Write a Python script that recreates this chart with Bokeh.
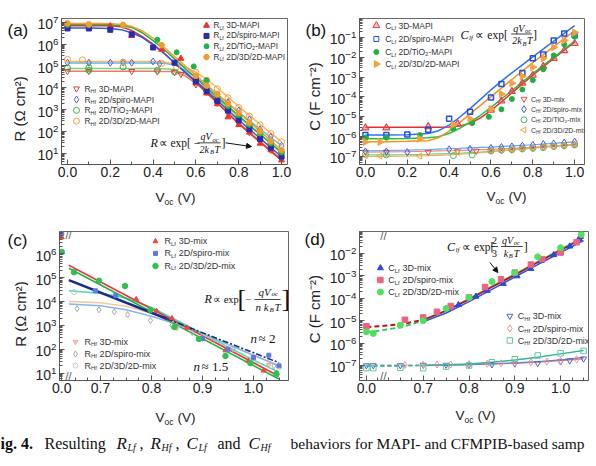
import math
from bokeh.plotting import figure
from bokeh.models import FixedTicker, PrintfTickFormatter, Label, Arrow, NormalHead, Range1d
from bokeh.layouts import column, row
from bokeh.embed import file_html
from bokeh.resources import INLINE

# ===================== DATA =====================
# ---- panel (a): R vs Voc, MAPI samples ----
A_LF3D_V = [0.0, 0.1, 0.2, 0.3, 0.44, 0.53, 0.6, 0.65, 0.7, 0.75, 0.8, 0.85, 0.9, 0.95, 1.0]
A_LF3D_R = [7.0e6, 7.0e6, 6.6e6, 2.4e6, 5.6e5, 2.2e5, 1.6e4, 5.6e3, 1.8e3, 4.5e2, 2.0e2, 90, 28, 14, 4.8]
A_LFSP_V = [0.0, 0.1, 0.2, 0.3, 0.4, 0.5, 0.6, 0.65, 0.7, 0.75, 0.8, 0.85, 0.9, 0.95, 1.0]
A_LFSP_R = [5.2e6, 5.2e6, 4.5e6, 2.8e6, 7.0e5, 1.4e5, 2.0e4, 7.0e3, 2.5e3, 9.0e2, 3.2e2, 1.25e2, 45, 18, 7.0]
A_LFTI_V = [0.0, 0.1, 0.26, 0.42, 0.51, 0.59, 0.65, 0.7, 0.75, 0.8, 0.85, 0.9, 0.95, 1.0]
A_LFTI_R = [7.6e6, 7.2e6, 7.0e6, 1.6e6, 4.2e5, 9.5e4, 2.2e4, 5.0e3, 1.4e3, 5.6e2, 2.0e2, 80, 28, 10.7]
A_LFTR_V = [0.0, 0.1, 0.26, 0.44, 0.6, 0.65, 0.7, 0.75, 0.8, 0.85, 0.9, 0.95, 1.0]
A_LFTR_R = [8.9e6, 8.0e6, 7.6e6, 9.0e5, 3.5e4, 1.25e4, 5.0e3, 1.8e3, 7.0e2, 2.5e2, 1.0e2, 35, 14]
A_HF3D_V = [0.0, 0.1, 0.3, 0.42, 0.5, 0.53, 0.6, 0.65, 0.7, 0.75, 0.8, 0.85, 0.9, 0.95, 1.0]
A_HF3D_R = [5.7e4, 5.7e4, 5.7e4, 5.5e4, 5.2e4, 4.2e4, 1.4e4, 6.3e3, 2.0e3, 7.0e2, 2.5e2, 90, 35, 14, 5.6]
A_HFSP_V = [0.0, 0.1, 0.2, 0.26, 0.3, 0.4, 0.43, 0.6, 0.65, 0.7, 0.75, 0.8, 0.85, 0.9, 0.95, 1.0]
A_HFSP_R = [1.4e5, 1.4e5, 1.4e5, 1.4e5, 1.4e5, 1.6e5, 1.25e5, 2.8e4, 1.1e4, 4.0e3, 2.2e3, 9.0e2, 3.5e2, 1.25e2, 56, 22]
A_HFTI_V = [0.0, 0.1, 0.1, 0.26, 0.42, 0.5, 0.6, 0.65, 0.7, 0.75, 0.8, 0.85, 0.9, 0.95, 1.0]
A_HFTI_R = [8.0e4, 8.3e4, 6.3e4, 9.0e4, 6.3e4, 5.2e4, 2.0e4, 8.0e3, 3.2e3, 1.25e3, 4.5e2, 1.8e2, 70, 28, 11]
A_HFTR_V = [0.0, 0.07, 0.26, 0.44, 0.51, 0.6, 0.65, 0.7, 0.75, 0.8, 0.85, 0.9, 0.95, 1.0]
A_HFTR_R = [2.0e5, 1.9e5, 1.5e5, 1.3e5, 9.0e4, 5.0e4, 2.2e4, 9.0e3, 3.5e3, 1.25e3, 5.0e2, 2.0e2, 80, 34]
A_FIT_V = [0.0, 0.1, 0.2, 0.25, 0.3, 0.35, 0.4, 0.45, 0.5, 0.55, 0.6, 0.65, 0.7, 0.8, 0.9, 1.0]
A_FIT_LF3D = [7.0e6, 7.0e6, 6.9e6, 6.3e6, 4.2e6, 2.2e6, 1.0e6, 4.0e5, 1.4e5, 5.0e4, 1.8e4, 6.0e3, 2.0e3, 2.2e2, 32, 4.7]
A_FIT_LFSP = [5.5e6, 5.5e6, 5.2e6, 4.6e6, 3.3e6, 2.0e6, 9.1e5, 3.8e5, 1.4e5, 5.2e4, 2.0e4, 7.2e3, 2.6e3, 3.3e2, 48, 6.9]
A_FIT_LFTI = [7.9e6, 7.9e6, 7.8e6, 7.2e6, 5.8e6, 3.3e6, 1.45e6, 5.8e5, 2.1e5, 7.6e4, 2.8e4, 1.0e4, 3.8e3, 5.2e2, 74, 10.7]
A_FIT_LFTR = [8.9e6, 8.9e6, 8.7e6, 7.9e6, 6.5e6, 4.0e6, 1.9e6, 7.4e5, 2.75e5, 1.0e5, 3.7e4, 1.4e4, 5.1e3, 7.2e2, 1.0e2, 14]
A_FIT_HF3D = [5.7e4, 5.7e4, 5.7e4, 5.7e4, 5.7e4, 5.7e4, 5.7e4, 5.6e4, 5.5e4, 3.5e4, 1.6e4, 6.0e3, 2.1e3, 2.5e2, 35, 5.2]
A_FIT_HFSP = [1.35e5, 1.35e5, 1.35e5, 1.35e5, 1.35e5, 1.35e5, 1.35e5, 1.33e5, 1.12e5, 6.3e4, 3.0e4, 1.25e4, 5.0e3, 7.6e2, 1.25e2, 22]
A_FIT_HFTI = [7.6e4, 7.6e4, 7.6e4, 7.6e4, 7.6e4, 7.6e4, 7.6e4, 7.5e4, 6.9e4, 4.2e4, 2.0e4, 8.3e3, 3.2e3, 4.6e2, 71, 11]
A_FIT_HFTR = [1.6e5, 1.6e5, 1.6e5, 1.6e5, 1.6e5, 1.6e5, 1.6e5, 1.5e5, 1.25e5, 8.9e4, 5.2e4, 2.4e4, 1.0e4, 1.4e3, 2.1e2, 34]

# ---- panel (b): C vs Voc, MAPI samples ----
B_LF3D_V = [0.0, 0.1, 0.3, 0.44, 0.6, 0.65, 0.7, 0.75, 0.8, 0.85, 0.9, 0.95, 1.0]
B_LF3D_C = [2.8e-6, 2.8e-6, 3.2e-6, 4.5e-6, 2.2e-5, 6.3e-5, 1.9e-4, 5.0e-4, 1.25e-3, 3.5e-3, 8.9e-3, 2.2e-2, 5.0e-2]
B_LFSP_V = [0.0, 0.1, 0.2, 0.3, 0.4, 0.5, 0.6, 0.65, 0.75, 0.8, 0.85, 0.9, 0.95, 1.0]
B_LFSP_C = [1.2e-6, 1.2e-6, 1.3e-6, 2.2e-6, 7.9e-6, 1.8e-5, 9.5e-5, 4.5e-4, 1.6e-3, 8.9e-3, 1.4e-2, 7.0e-2, 1.6e-1, 1.3e-1]
B_LFTI_V = [0.0, 0.1, 0.26, 0.42, 0.51, 0.59, 0.65, 0.7, 0.75, 0.8, 0.85, 0.9, 0.95, 1.0]
B_LFTI_C = [8.9e-7, 8.9e-7, 1.2e-6, 2.5e-6, 4.8e-6, 1.0e-5, 2.4e-5, 7.9e-5, 2.4e-4, 7.1e-4, 2.5e-3, 1.25e-2, 4.5e-2, 1.1e-1]
B_LFTR_V = [0.0, 0.07, 0.26, 0.42, 0.5, 0.6, 0.65, 0.7, 0.75, 0.8, 0.85, 0.9, 0.95, 1.0]
B_LFTR_C = [5.4e-7, 5.4e-7, 7.9e-7, 4.0e-6, 7.9e-6, 2.5e-5, 1.4e-4, 5.0e-4, 1.1e-3, 3.2e-3, 8.9e-3, 3.2e-2, 7.1e-2, 1.8e-1]
B_HF3D_V = [0.0, 0.1, 0.3, 0.44, 0.53, 0.6, 0.65, 0.7, 0.75, 0.8, 0.85, 0.9, 0.95, 1.0]
B_HF3D_C = [1.7e-7, 1.7e-7, 1.65e-7, 1.8e-7, 1.9e-7, 2.0e-7, 2.1e-7, 2.2e-7, 2.5e-7, 2.7e-7, 3.0e-7, 3.2e-7, 3.5e-7, 4.0e-7]
B_HFSP_V = [0.0, 0.1, 0.2, 0.4, 0.5, 0.6, 0.65, 0.7, 0.75, 0.8, 0.85, 0.9, 0.95, 1.0]
B_HFSP_C = [1.8e-7, 1.8e-7, 1.65e-7, 2.3e-7, 2.4e-7, 2.7e-7, 3.0e-7, 3.2e-7, 3.5e-7, 3.8e-7, 4.2e-7, 4.5e-7, 5.0e-7, 5.6e-7]
B_HFTI_V = [0.0, 0.1, 0.42, 0.51, 0.6, 0.65, 0.7, 0.75, 0.8, 0.85, 0.9, 0.95, 1.0]
B_HFTI_C = [1.3e-7, 1.2e-7, 1.1e-7, 1.2e-7, 1.9e-7, 2.1e-7, 2.2e-7, 2.4e-7, 2.6e-7, 2.8e-7, 3.2e-7, 3.5e-7, 3.8e-7]
B_HFTR_V = [0.0, 0.07, 0.26, 0.44, 0.6, 0.65, 0.7, 0.75, 0.8, 0.85, 0.9, 0.95, 1.0]
B_HFTR_C = [1.1e-7, 1.05e-7, 1.05e-7, 1.6e-7, 1.9e-7, 2.1e-7, 2.2e-7, 2.5e-7, 2.7e-7, 3.0e-7, 3.3e-7, 3.7e-7, 4.0e-7]
B_FIT_V = [0.0, 0.1, 0.2, 0.3, 0.35, 0.4, 0.45, 0.5, 0.55, 0.6, 0.65, 0.7, 0.8, 0.9, 1.0]
B_FIT_LF3D = [3.0e-6, 3.0e-6, 3.0e-6, 3.0e-6, 3.0e-6, 3.1e-6, 3.4e-6, 4.7e-6, 8.9e-6, 2.1e-5, 5.6e-5, 1.6e-4, 1.25e-3, 8.9e-3, 6.0e-2]
B_FIT_LFSP = [1.2e-6, 1.2e-6, 1.26e-6, 1.45e-6, 2.0e-6, 3.8e-6, 9.5e-6, 2.6e-5, 7.6e-5, 2.3e-4, 6.3e-4, 1.66e-3, 1.05e-2, 6.6e-2, 4.0e-1]
B_FIT_LFTI = [7.9e-7, 7.9e-7, 8.1e-7, 8.7e-7, 1.0e-6, 1.45e-6, 2.6e-6, 5.4e-6, 1.2e-5, 3.0e-5, 7.9e-5, 2.1e-4, 1.5e-3, 1.0e-2, 6.6e-2]
B_FIT_LFTR = [5.6e-7, 5.6e-7, 5.8e-7, 6.3e-7, 8.9e-7, 1.9e-6, 5.0e-6, 1.4e-5, 3.8e-5, 1.05e-4, 2.8e-4, 7.6e-4, 5.4e-3, 3.5e-2, 2.2e-1]
B_FIT_HF3D = [1.65e-7, 1.7e-7, 1.75e-7, 1.85e-7, 1.9e-7, 1.95e-7, 2.0e-7, 2.1e-7, 2.2e-7, 2.3e-7, 2.4e-7, 2.55e-7, 2.9e-7, 3.4e-7, 4.0e-7]
B_FIT_HFSP = [1.9e-7, 2.0e-7, 2.1e-7, 2.25e-7, 2.35e-7, 2.45e-7, 2.55e-7, 2.7e-7, 2.85e-7, 3.0e-7, 3.2e-7, 3.4e-7, 3.9e-7, 4.6e-7, 5.5e-7]
B_FIT_HFTI = [1.2e-7, 1.22e-7, 1.25e-7, 1.3e-7, 1.35e-7, 1.4e-7, 1.45e-7, 1.55e-7, 1.65e-7, 1.8e-7, 2.0e-7, 2.2e-7, 2.7e-7, 3.3e-7, 3.9e-7]
B_FIT_HFTR = [1.0e-7, 1.02e-7, 1.05e-7, 1.1e-7, 1.15e-7, 1.2e-7, 1.3e-7, 1.4e-7, 1.55e-7, 1.7e-7, 1.9e-7, 2.1e-7, 2.6e-7, 3.2e-7, 3.9e-7]

# ---- panel (c): R vs Voc, mix samples (0.0 shown before an axis break) ----
C_LF3D_V = [0.0, 0.77, 0.81, 0.84, 0.87, 0.9, 0.945, 0.99, 1.02, 1.045]
C_LF3D_R = [4.9e6, 1.25e4, 4.0e3, 2.0e3, 7.9e2, 2.8e2, 89, 32, 12.6, 10]
C_LFSP_V = [0.0, 0.69, 0.73, 0.9, 0.95, 1.0, 1.03, 1.05]
C_LFSP_R = [7.2e6, 2.8e4, 1.8e4, 2.8e2, 1.0e2, 45, 56, 20]
C_LF22_V = [0.0, 0.648, 0.697, 0.748, 0.798, 0.845, 0.893, 0.945, 0.994, 1.045]
C_LF22_R = [1.2e6, 1.7e5, 7.4e4, 4.5e4, 4.4e3, 8.5e2, 2.7e2, 52, 26, 9.3]
C_HF3D_V = [0.85, 0.9, 0.95, 1.0, 1.03]
C_HF3D_R = [7.9e2, 2.8e2, 1.0e2, 40, 22]
C_HFSP_V = [0.654, 0.697, 0.727, 0.753, 0.798, 0.84, 0.88, 0.92, 0.96, 1.0, 1.04]
C_HFSP_R = [5.0e3, 4.5e3, 3.7e3, 2.8e3, 1.6e3, 1.0e3, 5.0e2, 2.2e2, 1.0e2, 45, 20]
C_HF22_V = [0.648, 0.9, 0.95, 1.0, 1.05]
C_HF22_R = [2.5e4, 3.2e2, 1.25e2, 50, 18]
C_FIT3D_V = [0.638, 1.05]
C_FIT3D_R = [3.3e5, 7.4]
C_FITSP_V = [0.638, 0.83]
C_FITSP_R = [7.9e4, 1.9e3]
C_FITSP2_V = [0.83, 1.05]
C_FITSP2_R = [1.9e3, 27]
C_FIT22_V = [0.638, 1.05]
C_FIT22_R = [2.5e5, 5.6]
C_HFIT_V = [0.638, 0.7, 0.75, 0.8, 0.85, 0.9, 0.95, 1.0, 1.05]
C_HFIT_22 = [2.8e4, 2.2e4, 1.4e4, 5.6e3, 1.6e3, 4.5e2, 1.25e2, 35, 11]
C_HFIT_3D = [1.0e4, 8.9e3, 6.3e3, 3.2e3, 1.25e3, 4.5e2, 1.6e2, 56, 20]
C_HFIT_SP = [7.9e3, 6.6e3, 4.5e3, 2.4e3, 1.1e3, 4.5e2, 1.6e2, 56, 20]

# ---- panel (d): C vs Voc, mix samples ----
D_LF3D_V = [0.777, 0.815, 0.84, 0.875, 0.905, 0.935, 0.958, 0.985, 1.02, 1.04]
D_LF3D_C = [5.1e-5, 1.2e-4, 2.2e-4, 4.5e-4, 9.8e-4, 2.1e-3, 4.9e-3, 8.7e-3, 2.1e-2, 4.5e-2]
D_LFSP_V = [0.0, 0.66, 0.7, 0.73, 0.76, 0.8, 0.835, 0.87, 0.9, 0.935, 0.96, 1.0, 1.035]
D_LFSP_C = [5.6e-6, 1.1e-5, 1.4e-5, 2.5e-5, 4.5e-5, 1.1e-4, 3.2e-4, 7.1e-4, 1.4e-3, 3.2e-3, 5.6e-3, 1.1e-2, 3.2e-2]
D_LF22_V = [0.0, 0.015, 0.65, 0.7, 0.75, 0.8, 0.85, 0.9, 0.95, 1.0, 1.045]
D_LF22_C = [3.2e-6, 2.7e-6, 6.3e-6, 1.0e-5, 3.5e-5, 1.1e-4, 5.6e-4, 1.4e-3, 7.1e-3, 1.8e-2, 7.1e-2]
D_FIT_V = [0.0, 0.015, 0.65, 0.7, 0.75, 0.8, 0.85, 0.9, 0.95, 1.0, 1.05]
D_FIT_SP = [5.2e-6, 5.4e-6, 6.8e-6, 1.1e-5, 2.8e-5, 8.9e-5, 3.2e-4, 1.1e-3, 4.0e-3, 1.4e-2, 5.0e-2]
D_FIT_22 = [3.2e-6, 3.3e-6, 5.0e-6, 1.0e-5, 2.8e-5, 9.5e-5, 3.4e-4, 1.2e-3, 4.3e-3, 1.5e-2, 5.4e-2]
D_FIT3D_V = [0.7, 0.75, 0.8, 0.85, 0.9, 0.95, 1.0, 1.05]
D_FIT_3D = [8.9e-6, 2.2e-5, 7.1e-5, 2.5e-4, 8.9e-4, 3.2e-3, 1.1e-2, 3.8e-2]
D_HF3D_V = [0.0, 0.015, 0.65, 0.7, 0.75, 0.8, 0.85, 0.9, 0.95, 1.0, 1.02, 1.05]
D_HF3D_C = [1.0e-7, 1.0e-7, 1.0e-7, 1.05e-7, 1.05e-7, 1.05e-7, 1.1e-7, 1.2e-7, 1.25e-7, 1.5e-7, 1.65e-7, 2.0e-7]
D_HFSP_V = [0.66, 0.7, 0.73, 0.76, 0.8, 0.84, 0.87, 0.9, 0.935, 0.97, 1.0, 1.035]
D_HFSP_C = [1.05e-7, 1.07e-7, 1.1e-7, 1.1e-7, 1.15e-7, 1.2e-7, 1.25e-7, 1.3e-7, 1.4e-7, 1.5e-7, 1.6e-7, 1.9e-7]
D_HF22_V = [0.0, 0.015, 0.65, 0.7, 0.75, 0.8, 0.85, 0.9, 0.95, 1.0, 1.05]
D_HF22_C = [7.6e-8, 7.6e-8, 7.9e-8, 7.6e-8, 8.9e-8, 1.0e-7, 1.4e-7, 1.9e-7, 2.8e-7, 3.5e-7, 4.5e-7]
D_HFIT_22 = [9.5e-8, 9.5e-8, 9.5e-8, 1.0e-7, 1.07e-7, 1.17e-7, 1.38e-7, 1.74e-7, 2.34e-7, 3.3e-7, 4.7e-7]
D_HFIT_SP = [1.0e-7, 1.0e-7, 1.0e-7, 1.02e-7, 1.05e-7, 1.1e-7, 1.17e-7, 1.26e-7, 1.4e-7, 1.66e-7, 2.0e-7]
D_HFIT_3D = [1.0e-7, 1.0e-7, 1.0e-7, 1.02e-7, 1.05e-7, 1.1e-7, 1.18e-7, 1.3e-7, 1.5e-7, 1.8e-7, 2.3e-7]

A_XTICKS = [0.0, 0.2, 0.4, 0.6, 0.8, 1.0]
CD_XTICKS = [0.7, 0.8, 0.9, 1.0]

# ===================== LAYOUT HELPERS =====================
SANS = "Liberation Sans"
SERIF = "Liberation Serif"
INK = "#111111"

# figure boxes (page px) and frame geometry (page px)
GA = dict(fx=28, fy=0, w=270, h=189, fl=61, ft=15, fw=226, fh=155, x0=-0.028, x1=1.028, ly0=0.483, ly1=7.173)
GB = dict(fx=326, fy=0, w=270, h=189, fl=357, ft=18, fw=227, fh=146, x0=-0.0284, x1=1.047, ly0=-7.404, ly1=-0.042)
GC = dict(fx=28, fy=222, w=270, h=186, fl=59, ft=228, fw=229, fh=160, x0=0.6196, x1=1.0686, ly0=0.6875, ly1=6.9375, zero=0.624)
GD = dict(fx=326, fy=222, w=270, h=186, fl=358, ft=231, fw=230, fh=149, x0=0.5609, x1=1.0609, ly0=-7.67, ly1=-1.018, zero=0.576)


def at(G, X, Y):
    x = G['x0'] + (X - G['fl']) / G['fw'] * (G['x1'] - G['x0'])
    ly = G['ly1'] - (Y - G['ft']) / G['fh'] * (G['ly1'] - G['ly0'])
    return x, 10 ** ly


def brk(G, vs):
    return [v + G['zero'] if v < 0.3 else v for v in vs]


def make(G):
    p = figure(width=G['w'], height=G['h'],
               x_range=Range1d(G['x0'], G['x1']),
               y_range=Range1d(10 ** G['ly0'], 10 ** G['ly1']),
               y_axis_type="log", output_backend="svg", toolbar_location=None,
               min_border_left=G['fl'] - G['fx'], min_border_top=G['ft'] - G['fy'],
               min_border_right=G['fx'] + G['w'] - (G['fl'] + G['fw']),
               min_border_bottom=G['fy'] + G['h'] - (G['ft'] + G['fh']))
    p.xgrid.visible = False
    p.ygrid.visible = False
    p.outline_line_color = "#666666"
    p.outline_line_width = 1
    p.background_fill_color = "white"
    p.border_fill_color = "white"
    lo, hi = math.ceil(G['ly0']), math.floor(G['ly1'])
    majors = [10.0 ** k for k in range(lo, hi + 1)]
    minors = [m * 10.0 ** k for k in range(lo - 1, hi + 1) for m in range(2, 10)]
    p.yaxis.ticker = FixedTicker(ticks=majors, minor_ticks=minors)
    for ax in (p.xaxis[0], p.yaxis[0]):
        ax.major_tick_in = 5
        ax.major_tick_out = 0
        ax.minor_tick_in = 3
        ax.minor_tick_out = 0
        ax.axis_line_color = "#555555"
        ax.major_tick_line_color = "#555555"
        ax.minor_tick_line_color = "#555555"
        ax.major_label_text_font = SANS
        ax.major_label_text_font_size = "14px"
        ax.major_label_text_color = "#222222"
    p.xaxis.major_label_standoff = 2
    p.yaxis.major_label_standoff = 3
    return p


def strip(w, h):
    s = figure(width=w, height=h, x_range=Range1d(0, w), y_range=Range1d(h, 0),
               output_backend="svg", toolbar_location=None,
               min_border_left=0, min_border_right=0, min_border_top=0, min_border_bottom=0)
    s.axis.visible = False
    s.xgrid.visible = False
    s.ygrid.visible = False
    s.outline_line_color = None
    s.background_fill_color = "white"
    s.border_fill_color = "white"
    return s


def stxt(s, X, Y, t, size, font=SANS, style="normal", align="left", color=INK, angle=0.0):
    s.add_layout(Label(x=X, y=Y, text=t, text_font=font, text_font_size=f"{size}px",
                       text_font_style=style, text_align=align, text_baseline="middle",
                       text_color=color, angle=angle))


def txt(p, G, X, Y, s, size=9, font=SANS, style="normal", align="left", color="#333333",
        angle=0.0):
    x, y = at(G, X, Y)
    p.add_layout(Label(x=x, y=y, text=s, text_font=font, text_font_size=f"{size}px",
                       text_font_style=style, text_align=align, text_baseline="middle",
                       text_color=color, angle=angle))


def pts(p, xs, ys, marker, color, fill=True, size=6, angle=0.0, lw=1.0, alpha=1.0):
    p.scatter(x=xs, y=ys, marker=marker, size=size, line_color=color,
              fill_color=(color if fill else None), fill_alpha=(alpha if fill else 0.0),
              line_width=lw, angle=angle)


def ln(p, xs, ys, color, width=1.5, dash="solid"):
    p.line(x=xs, y=ys, line_color=color, line_width=width, line_dash=dash)


SUBW = {"Lf": 0.55, "Hf": 0.66, "lf": 0.36}


def leg(p, G, mx, tx, Y, marker, color, fill, main, sub, rest, fs, msize=6, angle=0.0, alpha=1.0):
    x, y = at(G, mx, Y)
    pts(p, [x], [y], marker, color, fill, msize, angle, 1.0, alpha)
    txt(p, G, tx, Y, main, fs)
    sx = tx + 0.72 * fs
    txt(p, G, sx, Y + 0.3 * fs, sub, round(fs * 0.65, 1))
    txt(p, G, sx + SUBW[sub] * fs + 0.3 * fs, Y, rest, fs)


def seg(p, G, X0, X1, Y):
    x0, y0 = at(G, X0, Y)
    x1, y1 = at(G, X1, Y)
    p.segment(x0=[x0], y0=[y0], x1=[x1], y1=[y1], line_color=INK, line_width=0.8)


def arrow(p, G, X0, Y0, X1, Y1):
    xs, ys = at(G, X0, Y0)
    xe, ye = at(G, X1, Y1)
    p.add_layout(Arrow(end=NormalHead(size=5, fill_color=INK, line_color=INK, line_width=1),
                       x_start=xs, y_start=ys, x_end=xe, y_end=ye,
                       line_color=INK, line_width=1))


def xlabel(s, X, Y, size=13.5):
    stxt(s, X, Y, "V", size, color="#222222")
    stxt(s, X + 0.67 * size, Y + 4, "oc", 8.5, color="#222222")
    stxt(s, X + 0.67 * size + 13, Y, "(V)", size, color="#222222")


# ===================== PANEL (a) =====================
pa = make(GA)
pa.xaxis.ticker = FixedTicker(ticks=A_XTICKS, minor_ticks=[0.1, 0.3, 0.5, 0.7, 0.9])
pa.xaxis.formatter = PrintfTickFormatter(format="%.1f")

ln(pa, A_FIT_V, A_FIT_HF3D, "#f07870")
ln(pa, A_FIT_V, A_FIT_HFSP, "#5ab8ea")
ln(pa, A_FIT_V, A_FIT_HFTI, "#7bd67b")
ln(pa, A_FIT_V, A_FIT_HFTR, "#f8b868")
ln(pa, A_FIT_V, A_FIT_LF3D, "#e2352b")
ln(pa, A_FIT_V, A_FIT_LFSP, "#3a55d8")
ln(pa, A_FIT_V, A_FIT_LFTI, "#1fae4b")
ln(pa, A_FIT_V, A_FIT_LFTR, "#f5a030")

pts(pa, A_HF3D_V, A_HF3D_R, "inverted_triangle", "#d94040", False)
pts(pa, A_HFSP_V, A_HFSP_R, "diamond", "#5a5ad8", False, 7)
pts(pa, A_HFTI_V, A_HFTI_R, "circle", "#3cb043", False)
pts(pa, A_HFTR_V, A_HFTR_R, "circle", "#f0a040", False)
pts(pa, A_LF3D_V, A_LF3D_R, "triangle", "#e8322e")
pts(pa, A_LFSP_V, A_LFSP_R, "square", "#2b2bb0", True, 5)
pts(pa, A_LFTI_V, A_LFTI_R, "circle", "#22b14c", True, 5)
pts(pa, A_LFTR_V, A_LFTR_R, "hex", "#f39c2c", True, 6)

for Y, (mk, col, sz), rest in zip([22.5, 33.5, 44.5, 56],
                                  [("triangle", "#e8322e", 6), ("square", "#2b2bb0", 5),
                                   ("circle", "#22b14c", 5), ("hex", "#f39c2c", 6)],
                                  ["3D-MAPI", "2D/spiro-MAPI", "2D/TiO\u2082-MAPI", "2D/3D/2D-MAPI"]):
    leg(pa, GA, 206, 213, Y, mk, col, True, "R", "Lf", rest, 8.2, sz)
for Y, (mk, col, sz), rest in zip([89.5, 101, 112.5, 124],
                                  [("inverted_triangle", "#d94040", 6), ("diamond", "#5a5ad8", 7),
                                   ("circle", "#3cb043", 6), ("circle", "#f0a040", 6)],
                                  ["3D-MAPI", "2D/spiro-MAPI", "2D/TiO\u2082-MAPI", "2D/3D/2D-MAPI"]):
    leg(pa, GA, 76, 84, Y, mk, col, False, "R", "Hf", rest, 8.5, sz)

txt(pa, GA, 150, 147, "R", 12, SERIF, "italic", color=INK)
txt(pa, GA, 158, 147, "\u221d exp[ \u2212", 11.5, SERIF, color=INK)
txt(pa, GA, 200, 140.5, "qV", 10, SERIF, "italic", color=INK)
txt(pa, GA, 212, 143, "oc", 6.5, SERIF, "italic", color=INK)
seg(pa, GA, 197, 220, 147)
txt(pa, GA, 199, 154, "2k", 10, SERIF, "italic", color=INK)
txt(pa, GA, 209.5, 156.5, "B", 6.5, SERIF, "italic", color=INK)
txt(pa, GA, 214, 154, "T", 10, SERIF, "italic", color=INK)
txt(pa, GA, 221, 147, "]", 12, SERIF, color=INK)
arrow(pa, GA, 225, 147, 251, 151)

# ===================== PANEL (b) =====================
pb = make(GB)
pb.xaxis.ticker = FixedTicker(ticks=A_XTICKS, minor_ticks=[0.1, 0.3, 0.5, 0.7, 0.9])
pb.xaxis.formatter = PrintfTickFormatter(format="%.1f")

ln(pb, B_FIT_V, B_FIT_HF3D, "#f08a80", 1.2)
ln(pb, B_FIT_V, B_FIT_HFSP, "#62a8f0", 1.2)
ln(pb, B_FIT_V, B_FIT_HFTI, "#66d088", 1.2)
ln(pb, B_FIT_V, B_FIT_HFTR, "#f0b060", 1.2)
ln(pb, B_FIT_V, B_FIT_LF3D, "#e03030")
ln(pb, B_FIT_V, B_FIT_LFSP, "#3070f0")
ln(pb, B_FIT_V, B_FIT_LFTI, "#20c040")
ln(pb, B_FIT_V, B_FIT_LFTR, "#f39020")

pts(pb, B_HF3D_V, B_HF3D_C, "inverted_triangle", "#e05050", False)
pts(pb, B_HFSP_V, B_HFSP_C, "diamond", "#5050e0", False, 7)
pts(pb, B_HFTI_V, B_HFTI_C, "circle", "#40c070", False)
pts(pb, B_HFTR_V, B_HFTR_C, "triangle", "#f0a040", False, 6, math.pi / 2)
pts(pb, B_LF3D_V, B_LF3D_C, "triangle", "#e04848", True, 7, 0.0, 1.2, 0.35)
pts(pb, B_LFSP_V, B_LFSP_C, "square", "#2050e0", False, 5, 0.0, 1.5)
pts(pb, B_LFTI_V, B_LFTI_C, "circle", "#20b040", True, 5)
pts(pb, B_LFTR_V, B_LFTR_C, "triangle", "#f5a040", True, 7, -math.pi / 2)

for Y, (mk, col, fill, sz, ang, al), rest in zip(
        [25, 38.5, 51.5, 63.5],
        [("triangle", "#e04848", True, 7, 0.0, 0.35), ("square", "#2050e0", False, 5, 0.0, 1.0),
         ("circle", "#20b040", True, 5, 0.0, 1.0), ("triangle", "#f5a040", True, 7, -math.pi / 2, 1.0)],
        ["3D-MAPI", "2D/spiro-MAPI", "2D/TiO\u2082-MAPI", "2D/3D/2D-MAPI"]):
    leg(pb, GB, 374, 383, Y, mk, col, fill, "C", "Lf", rest, 8.5, sz, ang, al)
for Y, (mk, col, sz, ang), rest in zip(
        [98.5, 108.7, 119.3, 129.5],
        [("inverted_triangle", "#e05050", 6, 0.0), ("diamond", "#5050e0", 7, 0.0),
         ("circle", "#40c070", 6, 0.0), ("triangle", "#f0a040", 6, math.pi / 2)],
        ["3D-mix", "2D/spiro-mix", "2D/TiO\u2082-mix", "2D/3D/2D-mix"]):
    leg(pb, GB, 523, 530, Y, mk, col, False, "C", "Hf", rest, 7, sz, ang)

txt(pb, GB, 459, 34, "C", 12, SERIF, "italic", color=INK)
txt(pb, GB, 467.5, 37, "lf", 7, SERIF, "italic", color=INK)
txt(pb, GB, 474, 34, "\u221d exp[", 11.5, SERIF, color=INK)
txt(pb, GB, 512, 27.5, "qV", 10, SERIF, "italic", color=INK)
txt(pb, GB, 524, 30, "oc", 6.5, SERIF, "italic", color=INK)
seg(pb, GB, 510, 531, 33.5)
txt(pb, GB, 511, 40, "2k", 10, SERIF, "italic", color=INK)
txt(pb, GB, 521.5, 42.5, "B", 6.5, SERIF, "italic", color=INK)
txt(pb, GB, 526, 40, "T", 10, SERIF, "italic", color=INK)
txt(pb, GB, 532, 34, "]", 12, SERIF, color=INK)

# ===================== PANEL (c) =====================
pc = make(GC)
pc.xaxis.ticker = FixedTicker(ticks=[GC['zero']] + CD_XTICKS,
                              minor_ticks=[0.65, 0.675, 0.725, 0.75, 0.775, 0.825, 0.85, 0.875,
                                           0.925, 0.95, 0.975, 1.025, 1.05])
pc.xaxis.formatter = PrintfTickFormatter(format="%.1f")
pc.xaxis.major_label_overrides = {GC['zero']: "0.0", 0.7: "0.7", 0.8: "0.8", 0.9: "0.9", 1.0: "1.0"}

ln(pc, C_HFIT_V, C_HFIT_3D, "#f8c890", 1.5)
ln(pc, C_HFIT_V, C_HFIT_SP, "#86b4f0", 1.5)
ln(pc, C_HFIT_V, C_HFIT_22, "#3ee0b0", 1.5)
ln(pc, C_FIT3D_V, C_FIT3D_R, "#e83838", 1.6)
ln(pc, C_FIT22_V, C_FIT22_R, "#22b048", 1.6)
ln(pc, C_FITSP_V, C_FITSP_R, "#1a2a8a", 2.6)
ln(pc, C_FITSP2_V, C_FITSP2_R, "#1a2a8a", 1.6, "6 2 2 2")

pts(pc, C_HF3D_V, C_HF3D_R, "inverted_triangle", "#f0a8a8", True, 5, 0.0, 1.0, 0.6)
pts(pc, C_HFSP_V, C_HFSP_R, "diamond", "#a8a8a8", False, 6)
pts(pc, C_HF22_V, C_HF22_R, "circle", "#c8c8c8", False, 5)
pts(pc, brk(GC, C_LF3D_V), C_LF3D_R, "triangle", "#e84848", True, 5)
pts(pc, brk(GC, C_LFSP_V), C_LFSP_R, "square", "#6078e0", True, 4)
pts(pc, brk(GC, C_LF22_V), C_LF22_R, "circle", "#30c050", True, 5.5)

for Y, (mk, col, sz), rest in zip([238.5, 251.5, 265],
                                  [("triangle", "#e84848", 5), ("square", "#6078e0", 4), ("circle", "#30c050", 5.5)],
                                  ["3D-mix", "2D/spiro-mix", "2D/3D/2D-mix"]):
    leg(pc, GC, 155, 164, Y, mk, col, True, "R", "Lf", rest, 9, sz)
for Y, (mk, col, fill, sz, al), rest in zip([346.5, 359.5, 372],
                                            [("inverted_triangle", "#f0a8a8", True, 5, 0.6),
                                             ("diamond", "#a8a8a8", False, 6, 1.0),
                                             ("circle", "#c8c8c8", False, 5, 1.0)],
                                            ["3D-mix", "2D/spiro-mix", "2D/3D/2D-mix"]):
    leg(pc, GC, 75, 84, Y, mk, col, fill, "R", "Hf", rest, 9, sz, 0.0, al)

txt(pc, GC, 204, 301, "R", 12, SERIF, "italic", color=INK)
txt(pc, GC, 212.5, 301, "\u221d exp", 10.5, SERIF, color=INK)
txt(pc, GC, 237, 300, "[", 26, SERIF, color=INK)
txt(pc, GC, 245, 301, "\u2212", 10, SERIF, color=INK)
txt(pc, GC, 258, 292.5, "qV", 11, SERIF, "italic", color=INK)
txt(pc, GC, 271, 295, "oc", 7, SERIF, "italic", color=INK)
seg(pc, GC, 254, 280, 301)
txt(pc, GC, 255, 309.5, "n k", 11, SERIF, "italic", color=INK)
txt(pc, GC, 269, 312, "B", 7, SERIF, "italic", color=INK)
txt(pc, GC, 274, 309.5, "T", 11, SERIF, "italic", color=INK)
txt(pc, GC, 281, 300, "]", 26, SERIF, color=INK)
txt(pc, GC, 250, 343, "n", 13, SERIF, "italic", color=INK)
txt(pc, GC, 258, 343, "\u2248 2", 13, SERIF, color=INK)
txt(pc, GC, 193, 373, "n", 13, SERIF, "italic", color=INK)
txt(pc, GC, 201, 373, "\u2248 1.5", 13, SERIF, color=INK)
txt(pc, GC, 68, 232, "//", 11, align="center", color="#555555")
txt(pc, GC, 68, 383, "//", 11, align="center", color="#555555")

# ===================== PANEL (d) =====================
pd_ = make(GD)
pd_.xaxis.ticker = FixedTicker(ticks=[GD['zero']] + CD_XTICKS,
                               minor_ticks=[0.6, 0.625, 0.65, 0.675, 0.725, 0.75, 0.775, 0.825, 0.85, 0.875,
                                            0.925, 0.95, 0.975, 1.025, 1.05])
pd_.xaxis.formatter = PrintfTickFormatter(format="%.1f")
pd_.xaxis.major_label_overrides = {GD['zero']: "0.0", 0.7: "0.7", 0.8: "0.8", 0.9: "0.9", 1.0: "1.0"}

dv = brk(GD, D_FIT_V)
ln(pd_, dv[:4], D_HFIT_SP[:4], "#e08070", 1.3, "4 3")
ln(pd_, dv[3:], D_HFIT_SP[3:], "#e08070", 1.3)
ln(pd_, dv[:4], D_HFIT_3D[:4], "#6080e0", 1.3, "4 3")
ln(pd_, dv[3:], D_HFIT_3D[3:], "#6080e0", 1.3)
ln(pd_, dv[:4], D_HFIT_22[:4], "#30b890", 1.5, "4 3")
ln(pd_, dv[3:], D_HFIT_22[3:], "#30b890", 1.5)
ln(pd_, D_FIT3D_V, D_FIT_3D, "#3050e0", 1.6)
ln(pd_, dv[:4], D_FIT_22[:4], "#30c050", 1.8, "5 3")
ln(pd_, dv[3:], D_FIT_22[3:], "#30c050", 1.6)
ln(pd_, dv[:4], D_FIT_SP[:4], "#b01818", 2.0, "5 3")
ln(pd_, dv[3:], D_FIT_SP[3:], "#b01818", 1.6)

pts(pd_, brk(GD, D_HF3D_V), D_HF3D_C, "inverted_triangle", "#5060c8", False, 6)
pts(pd_, brk(GD, D_HFSP_V), D_HFSP_C, "diamond", "#f09090", False, 7)
pts(pd_, brk(GD, D_HF22_V), D_HF22_C, "square", "#60c8a0", False, 5.5)
pts(pd_, brk(GD, D_LF3D_V), D_LF3D_C, "triangle", "#2848e0", True, 6)
pts(pd_, brk(GD, D_LFSP_V), D_LFSP_C, "square", "#f06080", True, 5.5)
pts(pd_, brk(GD, D_LF22_V), D_LF22_C, "circle", "#50e060", True, 6)

for Y, (mk, col, sz), rest in zip([267.5, 279.5, 291.5],
                                  [("triangle", "#2848e0", 6), ("square", "#f06080", 5.5), ("circle", "#50e060", 6)],
                                  ["3D-mix", "2D/spiro-mix", "2D/3D/2D-mix"]):
    leg(pd_, GD, 379, 387, Y, mk, col, True, "C", "Lf", rest, 9, sz)
for Y, (mk, col, sz), rest in zip([315.5, 328, 340],
                                  [("inverted_triangle", "#5060c8", 6), ("diamond", "#f09090", 7),
                                   ("square", "#60c8a0", 5.5)],
                                  ["3D-mix", "2D/spiro-mix", "2D/3D/2D-mix"]):
    leg(pd_, GD, 509, 517, Y, mk, col, False, "C", "Hf", rest, 9, sz)

txt(pd_, GD, 446, 246, "C", 12, SERIF, "italic", color=INK)
txt(pd_, GD, 454.5, 249, "lf", 7, SERIF, "italic", color=INK)
txt(pd_, GD, 461, 246, "\u221d exp[", 11.5, SERIF, color=INK)
txt(pd_, GD, 493.5, 239.5, "2", 10, SERIF, align="center", color=INK)
seg(pd_, GD, 490, 497, 246)
txt(pd_, GD, 493.5, 252.5, "3", 10, SERIF, align="center", color=INK)
txt(pd_, GD, 501, 239.5, "qV", 10, SERIF, "italic", color=INK)
txt(pd_, GD, 513, 242, "oc", 6.5, SERIF, "italic", color=INK)
seg(pd_, GD, 500, 522, 246)
txt(pd_, GD, 503, 252.5, "k", 10, SERIF, "italic", color=INK)
txt(pd_, GD, 508, 255, "B", 6.5, SERIF, "italic", color=INK)
txt(pd_, GD, 513, 252.5, "T", 10, SERIF, "italic", color=INK)
txt(pd_, GD, 523, 246, "]", 12, SERIF, color=INK)
arrow(pd_, GD, 489, 262, 497, 272)
txt(pd_, GD, 382, 235, "//", 11, align="center", color="#555555")
txt(pd_, GD, 382, 375, "//", 11, align="center", color="#555555")

# ===================== STRIPS (texts outside the plot frames) =====================
la = strip(28, 189)
stxt(la, 7, 15, "(a)", 17)
stxt(la, 19, 117, "R (\u03a9 cm\u00b2)", 15, align="center", color="#222222", angle=math.pi / 2)
lb = strip(28, 189)
stxt(lb, 7, 15, "(b)", 17)
stxt(lb, 16, 101, "C (F cm\u207b\u00b2)", 15, align="center", color="#222222", angle=math.pi / 2)
lc = strip(28, 186)
stxt(lc, 7, 11, "(c)", 17)
stxt(lc, 20, 103, "R (\u03a9 cm\u00b2)", 15, align="center", color="#222222", angle=math.pi / 2)
ld = strip(28, 186)
stxt(ld, 6, 10, "(d)", 17)
stxt(ld, 16, 97, "C (F cm\u207b\u00b2)", 15, align="center", color="#222222", angle=math.pi / 2)

s1 = strip(596, 33)
xlabel(s1, 155, 8)
xlabel(s1, 486, 7)

s2 = strip(596, 58)
xlabel(s2, 155, 9)
xlabel(s2, 455, 7)
CY = 35
stxt(s2, 0, CY, "ig. 4.", 16, SERIF, "bold")
stxt(s2, 44, CY, "Resulting", 16, SERIF)
stxt(s2, 116, CY, "R", 17, SERIF, "italic")
stxt(s2, 127, CY + 4, "Lf", 10, SERIF, "italic")
stxt(s2, 139, CY, ",", 16, SERIF)
stxt(s2, 150, CY, "R", 17, SERIF, "italic")
stxt(s2, 161, CY + 4, "Hf", 10, SERIF, "italic")
stxt(s2, 175, CY, ",", 16, SERIF)
stxt(s2, 186, CY, "C", 17, SERIF, "italic")
stxt(s2, 198, CY + 4, "Lf", 10, SERIF, "italic")
stxt(s2, 217, CY, "and", 16, SERIF)
stxt(s2, 248, CY, "C", 17, SERIF, "italic")
stxt(s2, 260, CY + 4, "Hf", 10, SERIF, "italic")
stxt(s2, 290, CY, "behaviors for MAPI- and CFMPIB-based samp", 15.5, SERIF)

layout = column(row(la, pa, lb, pb), s1, row(lc, pc, ld, pd_), s2)
open("out.html", "w").write(file_html(layout, INLINE))
